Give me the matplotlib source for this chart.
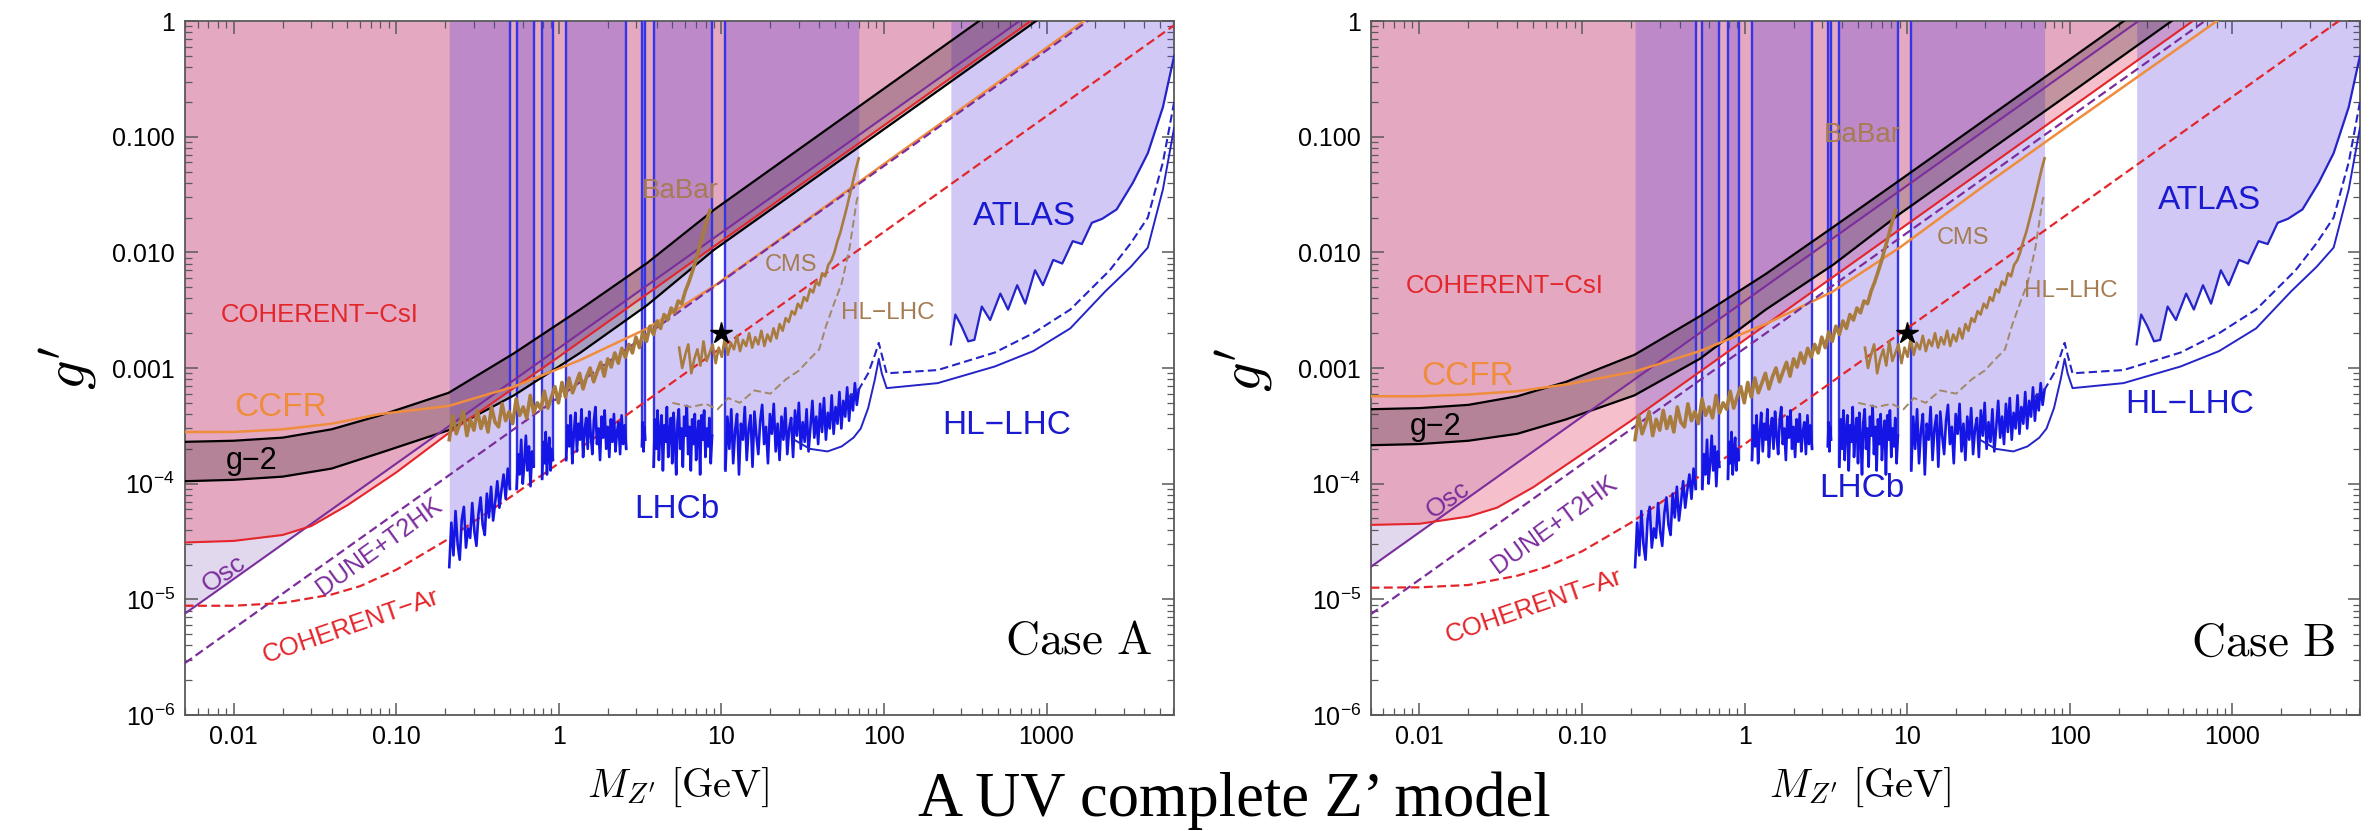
import numpy as np
import matplotlib as mpl
mpl.use('Agg')
import matplotlib.pyplot as plt
from matplotlib.ticker import FixedLocator, FixedFormatter, LogLocator, NullFormatter

plt.rcParams['font.family'] = ['Liberation Sans', 'DejaVu Sans']
plt.rcParams['mathtext.fontset'] = 'custom'
plt.rcParams['mathtext.rm'] = 'Liberation Sans'
plt.rcParams['mathtext.it'] = 'Liberation Sans:italic'
plt.rcParams['mathtext.bf'] = 'Liberation Sans:bold'

# ---------------- data (mass in GeV, coupling g') -------------
gm2_mass = [0.005, 0.01, 0.02, 0.04, 0.08, 0.21, 0.53, 1.35, 3.5, 9, 100, 1000]
ccfr_mass = [0.005, 0.01, 0.02, 0.04, 0.08, 0.21, 0.53, 1.35, 3.5, 9, 30, 100, 1700]
csi_mass = [0.005, 0.01, 0.02, 0.03, 0.05, 0.1, 0.2, 1, 1000]
ar_mass = [0.005, 0.01, 0.02, 0.04, 0.06, 0.1, 0.2, 0.5, 1, 6100]
line_mass = [0.005, 6100]   # Osc and DUNE+T2HK are straight lines

# Case A
A_gm2_hi = [2.3e-4, 2.35e-4, 2.5e-4, 2.95e-4, 3.9e-4, 6.1e-4, 1.34e-3, 3.2e-3, 8.1e-3, 0.0233, 0.26, 2.6]
A_gm2_lo = [1.05e-4, 1.08e-4, 1.15e-4, 1.35e-4, 1.85e-4, 2.9e-4, 5.8e-4, 1.35e-3, 3.5e-3, 0.0105, 0.116, 1.16]
A_ccfr = [2.8e-4, 2.8e-4, 2.95e-4, 3.3e-4, 4.0e-4, 4.7e-4, 6.9e-4, 1.17e-3, 2.2e-3, 5.1e-3, 0.017, 0.058, 1.0]
A_csi = [3.1e-5, 3.2e-5, 3.6e-5, 4.3e-5, 6.5e-5, 1.25e-4, 2.6e-4, 1.25e-3, 1.25]
A_ar = [8.8e-6, 8.8e-6, 9.3e-6, 1.1e-5, 1.3e-5, 1.8e-5, 3.2e-5, 7.6e-5, 1.5e-4, 0.92]
A_osc = [7.5e-6, 8.9]
A_dune = [2.8e-6, 3.4]

# Case B
B_gm2_hi = [4.4e-4, 4.5e-4, 4.8e-4, 5.7e-4, 7.6e-4, 1.3e-3, 2.8e-3, 6.5e-3, 0.0165, 0.042, 0.465, 4.65]
B_gm2_lo = [2.15e-4, 2.2e-4, 2.35e-4, 2.7e-4, 3.6e-4, 5.8e-4, 1.2e-3, 3.2e-3, 7.8e-3, 0.0215, 0.236, 2.36]
B_ccfr = [5.7e-4, 5.7e-4, 5.9e-4, 6.3e-4, 7.2e-4, 9.3e-4, 1.4e-3, 2.4e-3, 4.6e-3, 0.011, 0.038, 0.127, 2.1]
B_csi = [4.4e-5, 4.5e-5, 5.2e-5, 6.2e-5, 9.3e-5, 1.8e-4, 3.5e-4, 1.75e-3, 1.75]
B_ar = [1.26e-5, 1.27e-5, 1.33e-5, 1.6e-5, 1.9e-5, 2.6e-5, 4.6e-5, 1.1e-4, 2.2e-4, 1.35]
B_osc = [1.9e-5, 23.0]
B_dune = [7.4e-6, 9.0]

# LHCb dimuon limit, one list per window between the hadronic resonances
lhcb_windows = [(0.212, 0.50), (0.55, 0.70), (0.79, 0.92), (1.11, 2.6), (3.25, 3.4), (3.83, 8.77), (10.6, 70)]
lhcb_vals = [
    [1.9e-5, 4.6e-5, 2.4e-5, 5.8e-5, 3.0e-5, 2.2e-5, 4.9e-5, 6.3e-5, 2.8e-5, 4.1e-5, 3.4e-5, 6.8e-5, 3.9e-5,
     2.9e-5, 5.5e-5, 7.6e-5, 4.4e-5, 3.6e-5, 8.2e-5, 5.1e-5, 9.4e-5, 4.8e-5, 6.9e-5, 1.05e-4, 6.2e-5,
     8.8e-5, 1.2e-4, 7.4e-5, 1.35e-4, 9.0e-5],
    [0.9e-4, 1.8e-4, 1.2e-4, 2.4e-4, 1.0e-4, 1.5e-4, 2.6e-4, 1.3e-4, 2.1e-4, 0.95e-4, 1.9e-4, 1.4e-4],
    [1.1e-4, 2.3e-4, 1.5e-4, 2.8e-4, 1.2e-4, 1.9e-4, 2.5e-4, 1.3e-4, 2.0e-4, 1.6e-4],
    [1.6e-4, 3.2e-4, 2.1e-4, 3.9e-4, 1.5e-4, 2.7e-4, 4.1e-4, 1.9e-4, 3.3e-4, 2.4e-4, 4.4e-4, 1.7e-4, 2.9e-4,
     3.7e-4, 2.0e-4, 4.2e-4, 2.6e-4, 1.8e-4, 3.5e-4, 4.6e-4, 2.2e-4, 3.0e-4, 1.6e-4, 3.8e-4, 2.5e-4, 4.3e-4,
     2.0e-4, 3.1e-4, 1.7e-4, 3.6e-4, 2.3e-4, 4.0e-4, 1.9e-4, 2.8e-4, 3.4e-4, 1.8e-4, 3.9e-4, 2.2e-4, 3.2e-4,
     2.0e-4],
    [2.1e-4, 3.4e-4, 1.9e-4, 3.1e-4, 2.4e-4],
    [1.4e-4, 3.6e-4, 2.0e-4, 4.3e-4, 1.6e-4, 2.9e-4, 3.9e-4, 1.3e-4, 3.2e-4, 2.3e-4, 4.6e-4, 1.7e-4, 2.8e-4,
     3.7e-4, 1.5e-4, 4.1e-4, 2.5e-4, 1.2e-4, 3.4e-4, 4.4e-4, 2.0e-4, 3.0e-4, 1.4e-4, 3.8e-4, 2.6e-4, 4.7e-4,
     1.8e-4, 3.1e-4, 1.3e-4, 3.6e-4, 2.2e-4, 4.0e-4, 1.6e-4, 2.7e-4, 3.5e-4, 1.2e-4, 3.9e-4, 2.4e-4, 4.3e-4,
     1.7e-4, 3.0e-4, 2.1e-4, 3.7e-4, 1.5e-4, 2.6e-4],
    [1.3e-4, 3.8e-4, 2.0e-4, 4.4e-4, 1.5e-4, 2.9e-4, 4.0e-4, 1.2e-4, 3.3e-4, 2.4e-4, 4.6e-4, 1.6e-4, 3.0e-4,
     3.9e-4, 1.4e-4, 4.2e-4, 2.6e-4, 1.8e-4, 3.5e-4, 4.8e-4, 2.2e-4, 3.1e-4, 1.5e-4, 4.0e-4, 2.7e-4, 4.9e-4,
     1.9e-4, 3.3e-4, 1.6e-4, 3.8e-4, 2.4e-4, 4.5e-4, 1.8e-4, 3.0e-4, 3.7e-4, 1.7e-4, 4.3e-4, 2.6e-4, 5.0e-4,
     2.0e-4, 3.4e-4, 2.3e-4, 4.4e-4, 1.9e-4, 3.1e-4, 5.2e-4, 2.5e-4, 3.8e-4, 2.2e-4, 4.9e-4, 2.8e-4, 5.5e-4,
     2.4e-4, 4.1e-4, 3.0e-4, 5.8e-4, 2.7e-4, 4.6e-4, 3.3e-4, 6.2e-4, 3.0e-4, 5.2e-4, 3.8e-4, 6.8e-4, 3.5e-4,
     5.9e-4, 4.3e-4, 7.4e-4, 4.8e-4, 6.5e-4],
]

babar_range = (0.212, 8.5)
babar_g = [2.4e-4, 3.9e-4, 2.7e-4, 3.3e-4, 4.2e-4, 2.6e-4, 3.6e-4, 2.9e-4, 4.3e-4, 3.0e-4,
           3.8e-4, 2.8e-4, 4.6e-4, 3.4e-4, 3.1e-4, 4.9e-4, 3.5e-4, 4.2e-4, 3.3e-4, 5.4e-4,
           3.9e-4, 4.6e-4, 3.7e-4, 5.8e-4, 4.1e-4, 5.0e-4, 4.4e-4, 6.3e-4, 4.5e-4, 5.6e-4,
           6.9e-4, 5.0e-4, 7.5e-4, 5.6e-4, 8.2e-4, 6.1e-4, 7.4e-4, 9.0e-4, 6.6e-4, 8.4e-4,
           1.0e-3, 7.6e-4, 9.3e-4, 1.12e-3, 8.5e-4, 1.2e-3, 1.02e-3, 1.35e-3, 1.1e-3, 1.48e-3,
           1.24e-3, 1.6e-3, 1.35e-3, 1.85e-3, 1.5e-3, 2.05e-3, 1.7e-3, 2.3e-3, 1.95e-3, 2.55e-3,
           2.2e-3, 2.9e-3, 2.6e-3, 3.3e-3, 3.0e-3, 3.8e-3, 3.6e-3, 4.6e-3, 5.5e-3, 6.8e-3,
           8.5e-3, 0.011, 0.014, 0.0185, 0.023]

cms_range = (5.5, 70)
cms_g = [1.5e-3, 1.0e-3, 1.3e-3, 1.6e-3, 0.9e-3, 1.2e-3, 1.45e-3, 1.05e-3, 1.7e-3, 1.15e-3,
         1.35e-3, 1.6e-3, 1.1e-3, 1.5e-3, 1.25e-3, 1.8e-3, 1.3e-3, 1.65e-3, 1.45e-3, 1.9e-3,
         1.4e-3, 1.75e-3, 1.55e-3, 2.0e-3, 1.5e-3, 1.85e-3, 1.6e-3, 2.1e-3, 1.55e-3, 1.95e-3,
         1.7e-3, 2.2e-3, 1.8e-3, 2.4e-3, 2.1e-3, 2.7e-3, 2.5e-3, 3.1e-3, 2.9e-3, 3.6e-3,
         3.3e-3, 4.1e-3, 3.8e-3, 4.8e-3, 4.5e-3, 5.6e-3, 5.2e-3, 6.6e-3, 6.2e-3, 7.8e-3,
         8.5e-3, 0.010, 0.0125, 0.015, 0.019, 0.024, 0.031, 0.040, 0.052, 0.065]

cms_hl_mass = [5, 6.5, 8, 9.5, 11, 13, 16, 20, 25, 30, 35, 40, 44, 50, 55, 61.5, 68, 70]
cms_hl_g = [5.0e-4, 4.6e-4, 4.9e-4, 4.4e-4, 5.5e-4, 5.0e-4, 6.4e-4, 6.0e-4, 8.0e-4, 9.5e-4, 1.2e-3, 1.45e-3,
            2.3e-3, 3.8e-3, 5.4e-3, 0.011, 0.028, 0.032]

atlas_mass = [258, 275, 300, 330, 360, 400, 450, 520, 580, 660, 740, 850, 950, 1100, 1250, 1450, 1650, 1900,
              2200, 2700, 3400, 4200, 5200, 6100]
atlas_g = [1.6e-3, 2.9e-3, 2.3e-3, 1.7e-3, 1.75e-3, 3.4e-3, 2.6e-3, 4.4e-3, 3.2e-3, 5.2e-3, 3.6e-3, 7.0e-3,
           5.2e-3, 8.6e-3, 8.0e-3, 0.0125, 0.0118, 0.018, 0.0195, 0.0235, 0.040, 0.072, 0.18, 0.5]

hl_solid_mass = [28, 35, 45, 55, 65, 72, 80, 88, 93, 97, 104, 214, 480, 829, 1400, 2300, 3300, 4200, 5200, 6100]
hl_solid_g = [2.4e-4, 2.0e-4, 1.9e-4, 2.1e-4, 2.5e-4, 3.0e-4, 4.5e-4, 8.0e-4, 1.2e-3, 9.0e-4, 6.7e-4, 7.4e-4,
              1.03e-3, 1.4e-3, 2.2e-3, 4.6e-3, 7.5e-3, 0.011, 0.035, 0.12]
hl_dash_mass = [60, 70, 80, 88, 93, 97, 104, 214, 480, 829, 1400, 2450, 3300, 4200, 5200, 6100]
hl_dash_g = [5.5e-4, 6.5e-4, 9.0e-4, 1.3e-3, 1.65e-3, 1.3e-3, 9.0e-4, 9.6e-4, 1.36e-3, 2.0e-3, 3.2e-3,
             7.0e-3, 0.012, 0.02, 0.06, 0.2]

star_point = (10, 0.002)

# label positions (mass, g') per panel
A_labels = {'csi': (0.034, 2.9e-3), 'ccfr': (0.0194, 4.6e-4), 'gm2': (0.0129, 1.56e-4),
            'osc': (0.0087, 1.67e-5), 'dune': (0.079, 2.86e-5), 'ar': (0.0527, 5.8e-6),
            'lhcb': (5.3, 6.0e-5), 'babar': (5.6, 0.034), 'cms': (27, 7.8e-3), 'hlb': (105, 3.0e-3),
            'atlas': (730, 0.0204), 'hl': (565, 3.2e-4), 'case': (4430, 4.3e-6)}
B_labels = {'csi': (0.0333, 5.1e-3), 'ccfr': (0.0197, 8.5e-4), 'gm2': (0.0126, 3.1e-4),
            'osc': (0.0149, 7.3e-5), 'dune': (0.0678, 4.4e-5), 'ar': (0.0503, 8.7e-6),
            'lhcb': (5.25, 9.0e-5), 'babar': (5.3, 0.103), 'cms': (22, 0.0132), 'hlb': (101, 4.6e-3),
            'atlas': (725, 0.0279), 'hl': (550, 4.8e-4), 'case': (4270, 4.1e-6)}

RED = '#e3262b'
PURPLE = '#7b2d9c'
ORANGE = '#f08d3c'
BROWN = '#a87b3e'
BLUE = '#1515e6'
DBLUE = '#2424c8'
LAV = '#5a3cdc'

# scan grids of the noisy limits
lhcb_m = [np.geomspace(a, b, len(v)) for (a, b), v in zip(lhcb_windows, lhcb_vals)]
babar_m = np.geomspace(*babar_range, len(babar_g))
cms_m = np.geomspace(*cms_range, len(cms_g))


def panel(ax, gm2_hi, gm2_lo, ccfr, csi, ar, osc, dune, labels, case):
    ax.set_xscale('log')
    ax.set_yscale('log')
    ax.set_xlim(0.005, 6100)
    ax.set_ylim(1e-6, 1)

    # excluded regions
    ax.fill_between(line_mass, osc, 1, color='#a080c8', alpha=0.3, lw=0, zorder=1)
    ax.fill_between(csi_mass, csi, 1, color='#e8607f', alpha=0.4, lw=0, zorder=1)
    for m, v in zip(lhcb_m, lhcb_vals):
        ax.fill_between(m, v, 1, color=LAV, alpha=0.28, lw=0, zorder=2)
    ax.fill_between(atlas_mass, atlas_g, 1, color=LAV, alpha=0.28, lw=0, zorder=2)
    ax.fill_between(gm2_mass, gm2_lo, gm2_hi, color='#2a1520', alpha=0.25, lw=0, zorder=3)

    # vertical edges of the LHCb resonance windows
    for i, (m, v) in enumerate(zip(lhcb_m, lhcb_vals)):
        if i > 0:
            ax.vlines(m[0], v[0], 1, color='#3535e8', lw=1.7, zorder=4)
        if i < len(lhcb_m) - 1:
            ax.vlines(m[-1], v[-1], 1, color='#3535e8', lw=1.7, zorder=4)

    # curves
    ax.plot(gm2_mass, gm2_hi, color='k', lw=1.6, zorder=5)
    ax.plot(gm2_mass, gm2_lo, color='k', lw=1.6, zorder=5)
    ax.plot(line_mass, osc, color=PURPLE, lw=1.5, zorder=5)
    ax.plot(csi_mass, csi, color=RED, lw=1.5, zorder=5)
    ax.plot(ccfr_mass, ccfr, color=ORANGE, lw=1.8, zorder=5)
    ax.plot(line_mass, dune, color=PURPLE, lw=1.6, ls=(0, (4, 2)), zorder=5)
    ax.plot(ar_mass, ar, color=RED, lw=1.6, ls=(0, (4, 2)), zorder=5)
    for m, v in zip(lhcb_m, lhcb_vals):
        ax.plot(m, v, color=BLUE, lw=1.9, zorder=6)
    ax.plot(babar_m, babar_g, color=BROWN, lw=2.6, zorder=6)
    ax.plot(cms_m, cms_g, color=BROWN, lw=1.9, zorder=6)
    ax.plot(cms_hl_mass, cms_hl_g, color='#a08868', lw=1.4, ls=(0, (4, 2)), zorder=6)
    ax.plot(atlas_mass, atlas_g, color=DBLUE, lw=1.6, zorder=6)
    ax.plot(hl_solid_mass, hl_solid_g, color=DBLUE, lw=1.4, zorder=6)
    ax.plot(hl_dash_mass, hl_dash_g, color=DBLUE, lw=1.5, ls=(0, (4, 2)), zorder=6)
    ax.plot(*star_point, marker='*', color='k', ms=16, zorder=8)

    # labels
    def lab(key, s, color, size, rot=0):
        ax.text(*labels[key], s, color=color, fontsize=size, rotation=rot, rotation_mode='anchor',
                ha='center', va='center', zorder=9)
    lab('csi', 'COHERENT\u2212CsI', RED, 18.5)
    lab('ccfr', 'CCFR', ORANGE, 24)
    lab('gm2', 'g\u22122', 'k', 22)
    lab('osc', 'Osc', PURPLE, 19, 35)
    lab('dune', 'DUNE+T2HK', PURPLE, 18, 36)
    lab('ar', 'COHERENT\u2212Ar', RED, 18.5, 19)
    lab('lhcb', 'LHCb', '#1a1ad0', 24)
    lab('babar', 'BaBar', '#a67c52', 20)
    lab('cms', 'CMS', '#a67c52', 17)
    lab('hlb', 'HL\u2212LHC', '#a67c52', 17.5)
    lab('atlas', 'ATLAS', '#1a1ad0', 24)
    lab('hl', 'HL\u2212LHC', '#1a1ad0', 24)
    ax.text(*labels['case'], r'$\mathrm{Case\ ' + case + '}$', math_fontfamily='cm', fontsize=34,
            ha='right', va='center', zorder=9)

    # frame and ticks
    ax.xaxis.set_major_locator(FixedLocator([0.01, 0.1, 1, 10, 100, 1000]))
    ax.xaxis.set_major_formatter(FixedFormatter(['0.01', '0.10', '1', '10', '100', '1000']))
    ax.xaxis.set_minor_locator(LogLocator(base=10, subs=np.arange(2, 10) * 1.0, numticks=30))
    ax.xaxis.set_minor_formatter(NullFormatter())
    ax.yaxis.set_major_locator(FixedLocator([1e-6, 1e-5, 1e-4, 1e-3, 1e-2, 1e-1, 1]))
    ax.yaxis.set_major_formatter(FixedFormatter([r'$10^{-6}$', r'$10^{-5}$', r'$10^{-4}$', '0.001',
                                                 '0.010', '0.100', '1']))
    ax.yaxis.set_minor_locator(LogLocator(base=10, subs=np.arange(2, 10) * 1.0, numticks=30))
    ax.yaxis.set_minor_formatter(NullFormatter())
    ax.tick_params(which='both', direction='in', top=True, right=True, color='0.35', labelsize=18)
    ax.tick_params(which='major', length=9, width=1.1, pad=7)
    ax.tick_params(which='minor', length=5, width=0.9)
    for s in ax.spines.values():
        s.set_color('0.35')
        s.set_linewidth(1.3)


fig = plt.figure(figsize=(23.74, 8.31), dpi=100)
axA = fig.add_axes([0.0778, 0.1396, 0.4168, 0.8351])
axB = fig.add_axes([0.5773, 0.1396, 0.4168, 0.8351])

panel(axA, A_gm2_hi, A_gm2_lo, A_ccfr, A_csi, A_ar, A_osc, A_dune, A_labels, 'A')
panel(axB, B_gm2_hi, B_gm2_lo, B_ccfr, B_csi, B_ar, B_osc, B_dune, B_labels, 'B')

for xc, yc in [(0.029, 0.557), (0.5244, 0.555)]:
    fig.text(xc, yc, r"$g^{\prime}$", math_fontfamily='cm', fontsize=42, rotation=90,
             ha='center', va='center')
for xc in [0.2856, 0.7835]:
    fig.text(xc, 0.053, r"$M_{Z^{\prime}}\ [\mathrm{GeV}]$", math_fontfamily='cm', fontsize=29,
             ha='center', va='center')
fig.text(0.52, 0.037, 'A UV complete Z\u2019 model', family='Liberation Serif', fontsize=45,
         ha='center', va='center')

fig.savefig('out.png', dpi=100)
